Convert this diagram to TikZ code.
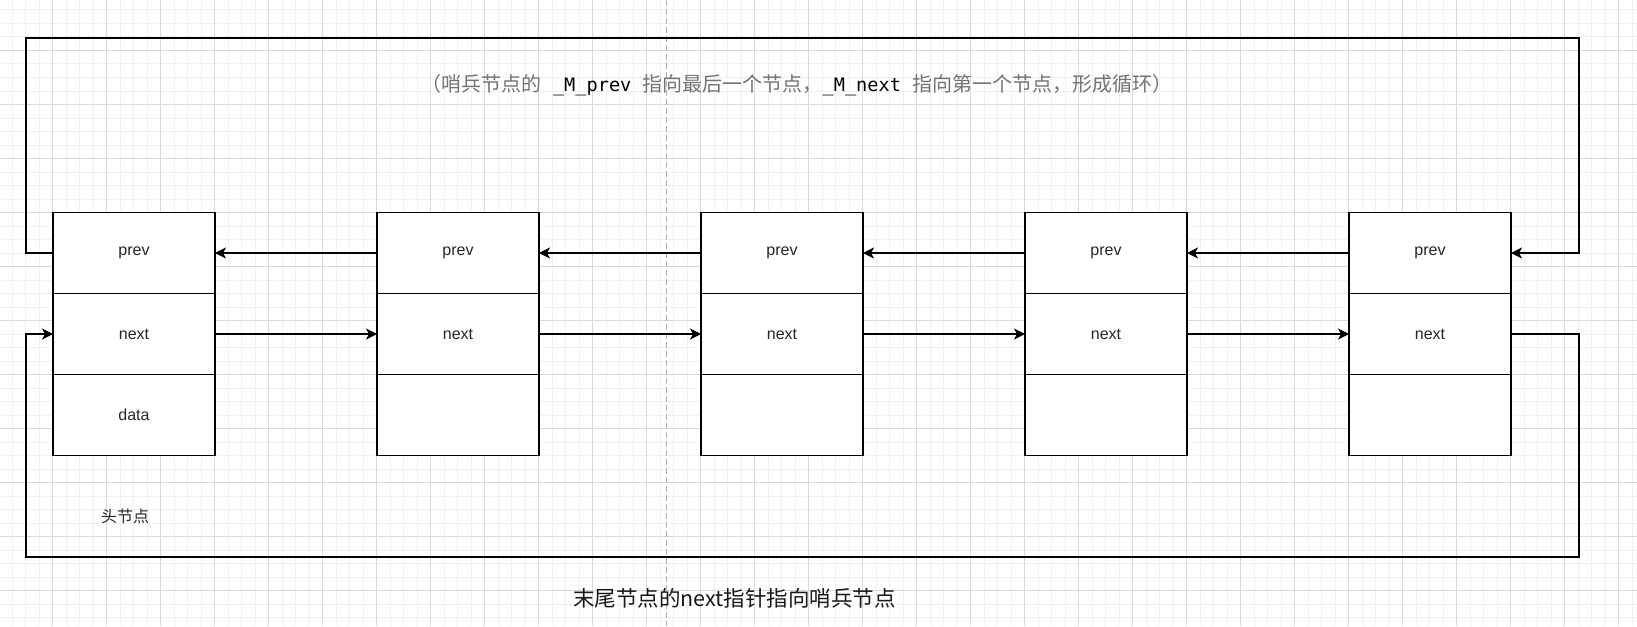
\documentclass[tikz,border=0pt]{standalone}
\usepackage{fontspec}
\setmainfont{Liberation Sans}
\newfontfamily\cjk{Noto Sans CJK SC}
\newfontfamily\monof{DejaVu Sans Mono}
\usetikzlibrary{arrows.meta}
\newcommand{\mcode}[1]{{\monof\fontsize{18.6}{22}\selectfont\color{black}#1}}
\begin{document}
\begin{tikzpicture}[x=1pt,y=-1pt,
  cell/.style={draw=black, line width=1.3pt, fill=white, minimum width=162pt, minimum height=81pt,
    inner sep=0pt, outer sep=0pt, anchor=north west, font=\fontsize{16}{19}\selectfont, text=black!85},
  link/.style={draw=black, line width=1.3pt, -{Stealth[length=11pt,width=11pt,inset=3pt]}},
  minorgrid/.style={draw=black!6, line width=1pt},
  majorgrid/.style={draw=black!15, line width=1.3pt},
  guide/.style={draw=black!30, line width=1pt, dash pattern=on 6pt off 3pt}]
\fill[white] (0,0) rectangle (1637,626);
\useasboundingbox (0,0) rectangle (1637,626);
\begin{scope}
\clip (0,0) rectangle (1637,626);
\foreach \i in {-4,...,118} {\draw[minorgrid] ({52.5+13.5*\i},0) -- ({52.5+13.5*\i},626);}
\foreach \j in {-4,...,43} {\draw[minorgrid] (0,{50.5+13.5*\j}) -- (1637,{50.5+13.5*\j});}
\foreach \i in {-1,...,30} {\draw[majorgrid] ({52.5+54*\i},0) -- ({52.5+54*\i},626);}
\foreach \j in {-1,...,11} {\draw[majorgrid] (0,{50.5+54*\j}) -- (1637,{50.5+54*\j});}
\draw[guide] (666,0) -- (666,626);
\end{scope}

% nodes
\node[cell] (b1p) at (53,212.5) {prev};
\node[cell] (b1n) at (53,293.5) {next};
\node[cell] (b1d) at (53,374.5) {data};
\foreach \k/\x in {2/377,3/701,4/1025,5/1349} {
  \node[cell] (b\k p) at (\x,212.5) {prev};
  \node[cell] (b\k n) at (\x,293.5) {next};
  \node[cell] (b\k d) at (\x,374.5) {};
}

% chain links
\foreach \a/\b in {1/2,2/3,3/4,4/5} {
  \draw[link] (b\b p.west) -- (b\a p.east);
  \draw[link] (b\a n.east) -- (b\b n.west);
}

% loops
\coordinate (pl) at (26,38);
\coordinate (pr) at (1579,38);
\coordinate (nl) at (26,557);
\coordinate (nr) at (1579,557);
\draw[link] (b1p.west) -| (pl) -- (pr) |- (b5p.east);
\draw[link] (b5n.east) -| (nr) -- (nl) |- (b1n.west);

% texts
\node[text=black!55, font=\cjk\fontsize{20}{24}\selectfont] (title) at (797,85)
  {（哨兵节点的\mcode{\ \_M\_prev\ }指向最后一个节点，\mcode{\_M\_next\ }指向第一个节点，形成循环）};
\node[text=black!85, font=\cjk\fontsize{16}{19}\selectfont] (head) at (125,516) {头节点};
\node[text=black!90, font=\cjk\fontsize{21.5}{25}\selectfont] (cap) at (734.5,598) {末尾节点的next指针指向哨兵节点};
\end{tikzpicture}
\end{document}
